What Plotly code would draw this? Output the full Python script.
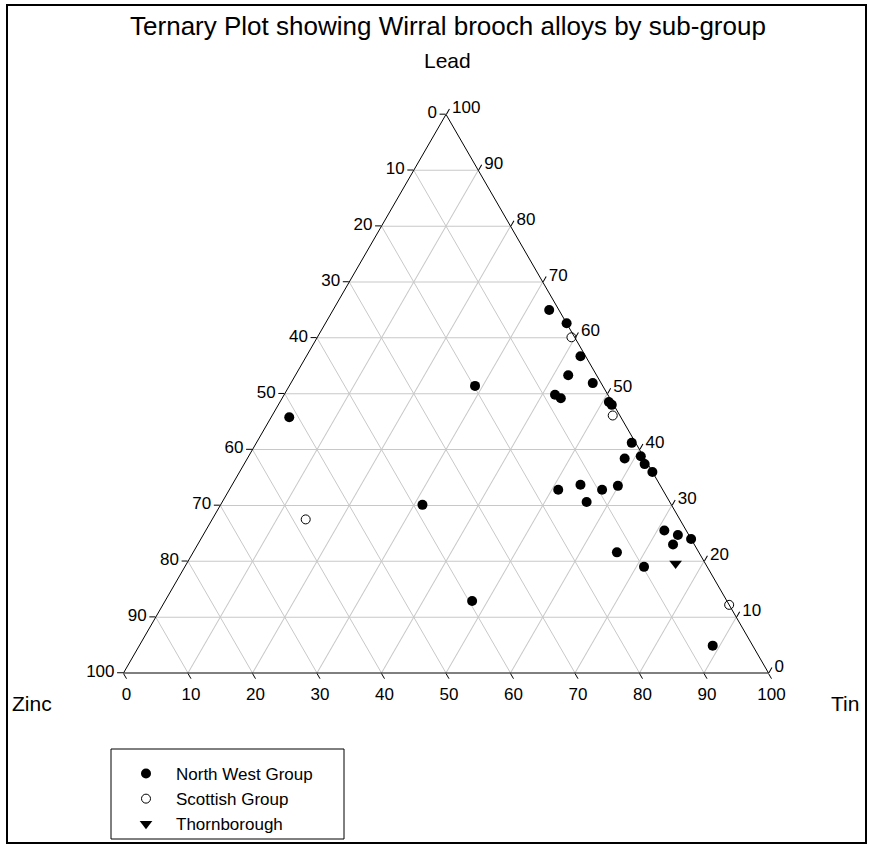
import plotly.graph_objects as go

W, H = 869, 845

# ---- data (percent) ----
nw_lead = [45.8, 51.4, 30.1, 12.9, 65.0, 62.6, 56.7, 53.3, 51.9, 49.8, 49.2, 48.5, 48.0, 41.2, 38.4,
           38.8, 37.4, 36.0, 32.8, 33.7, 32.8, 33.5, 30.6, 25.5, 24.7, 24.0, 23.0, 21.6, 19.0, 4.9]
nw_tin = [2.8, 28.8, 31.3, 47.6, 33.5, 37.4, 42.5, 42.3, 46.8, 42.0, 43.2, 51.0, 51.7, 58.2, 58.5,
          60.8, 62.1, 64.0, 51.0, 54.0, 57.8, 59.9, 56.5, 71.1, 73.6, 76.0, 73.7, 65.7, 71.2, 88.9]
nw_zinc = [51.4, 19.8, 38.6, 39.5, 1.5, 0.0, 0.8, 4.4, 1.3, 8.2, 7.6, 0.5, 0.3, 0.6, 3.1,
           0.4, 0.5, 0.0, 16.2, 12.3, 9.4, 6.6, 12.9, 3.4, 1.7, 0.0, 3.3, 12.7, 9.8, 6.2]

sc_lead = [60.1, 46.1, 27.5, 12.2]
sc_tin = [39.4, 52.8, 14.5, 87.8]
sc_zinc = [0.5, 1.1, 58.0, 0.0]

th_lead = [19.6]
th_tin = [75.8]
th_zinc = [4.6]

tick_vals = [0, 10, 20, 30, 40, 50, 60, 70, 80, 90, 100]
tick_text = ["100", "90", "80", "70", "60", "50", "40", "30", "20", "10", "0"]

FONT = "Liberation Sans, Arial, Helvetica, sans-serif"

# ---- geometry helpers (pixel -> paper) ----
def fx(x):
    return x / W

def fy(y):
    return 1 - y / H

side = 645
cx = 446
bottom = 673
tri_h = side * 3 ** 0.5 / 2

fig = go.Figure()

fig.add_trace(go.Scatterternary(
    a=nw_lead, b=nw_zinc, c=nw_tin, mode="markers", name="North West Group",
    cliponaxis=False,
    marker=dict(symbol="circle", size=10, color="black", line=dict(width=0))))
fig.add_trace(go.Scatterternary(
    a=sc_lead, b=sc_zinc, c=sc_tin, mode="markers", name="Scottish Group",
    cliponaxis=False,
    marker=dict(symbol="circle", size=9, color="white", line=dict(width=1, color="black"))))
fig.add_trace(go.Scatterternary(
    a=th_lead, b=th_zinc, c=th_tin, mode="markers", name="Thornborough",
    cliponaxis=False,
    marker=dict(symbol="triangle-down", size=11, color="black", line=dict(width=0))))

axis_common = dict(
    min=0, tickmode="array", tickvals=tick_vals, ticktext=tick_text,
    ticks="outside", ticklen=6, tickwidth=1, tickcolor="black",
    showline=True, linecolor="black", linewidth=1,
    showgrid=True, gridcolor="#c8c8c8", gridwidth=1,
    tickfont=dict(size=17, color="black", family=FONT),
    title=dict(text=""),
)

fig.update_layout(
    width=W, height=H,
    margin=dict(l=0, r=0, t=0, b=0),
    paper_bgcolor="white", plot_bgcolor="white",
    font=dict(family=FONT, color="black"),
    title=dict(text="Ternary Plot showing Wirral brooch alloys by sub-group",
               x=fx(448), xanchor="center", xref="paper",
               y=fy(26), yanchor="middle", yref="container",
               font=dict(size=26, color="black", family=FONT)),
    ternary=dict(
        sum=100,
        bgcolor="white",
        domain=dict(x=[fx(cx - side / 2), fx(cx + side / 2)],
                    y=[fy(bottom), fy(bottom - tri_h)]),
        aaxis=axis_common,
        baxis=axis_common,
        caxis=axis_common,
    ),
    showlegend=True,
    legend=dict(x=fx(116), y=fy(756), xanchor="left", yanchor="top",
                bgcolor="rgba(0,0,0,0)", borderwidth=0,
                font=dict(size=17, color="black", family=FONT),
                itemwidth=50, tracegroupgap=0),
    shapes=[
        dict(type="rect", xref="paper", yref="paper",
             x0=fx(7), x1=fx(866), y0=fy(843), y1=fy(5),
             line=dict(color="black", width=2), layer="below"),
        dict(type="rect", xref="paper", yref="paper",
             x0=fx(111), x1=fx(344), y0=fy(839), y1=fy(749),
             line=dict(color="black", width=1), layer="below"),
    ],
    annotations=[
        dict(text="Lead", x=fx(447), y=fy(61), xref="paper", yref="paper",
             xanchor="center", yanchor="middle", showarrow=False,
             font=dict(size=21, color="black", family=FONT)),
        dict(text="Zinc", x=fx(32), y=fy(703), xref="paper", yref="paper",
             xanchor="center", yanchor="middle", showarrow=False,
             font=dict(size=21, color="black", family=FONT)),
        dict(text="Tin", x=fx(845), y=fy(703), xref="paper", yref="paper",
             xanchor="center", yanchor="middle", showarrow=False,
             font=dict(size=21, color="black", family=FONT)),
    ],
)

fig.write_html("out.html", config={"displayModeBar": False},
               post_script="document.body.style.margin='0';document.body.style.padding='0';")
